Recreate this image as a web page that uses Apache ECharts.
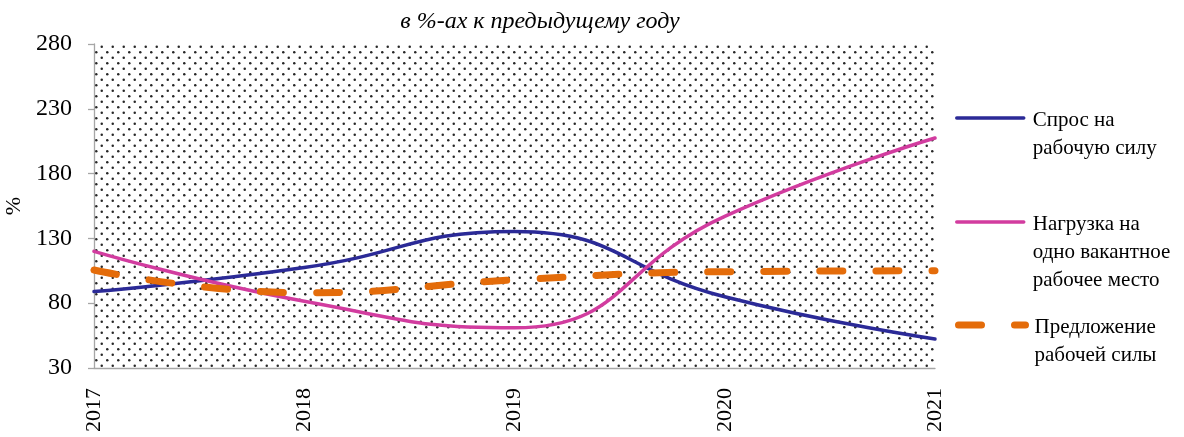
<!DOCTYPE html>
<html><head><meta charset="utf-8">
<script src="https://cdn.jsdelivr.net/npm/echarts@6/dist/echarts.min.js"></script>
<style>html,body{margin:0;padding:0;background:#fff}#c{width:1184px;height:437px}</style>
</head><body><div id="c"></div>
<script>
const years = ['2017', '2018', '2019', '2020', '2021'];
const yTicks = [30, 80, 130, 180, 230, 280];
const demand = [89, 107.5, 135.3, 85, 52.4];
const load = [120, 81.5, 61, 147, 207.5];
const supply = [105.6, 88, 98, 104.3, 105];
const names = ['Спрос на\nрабочую силу', 'Нагрузка на\nодно вакантное\nрабочее место', 'Предложение\nрабочей силы'];
const colors = ['#2B2A97', '#D23C9F', '#E46C0A'];

const tile = document.createElement('canvas');
tile.width = 11; tile.height = 11;
const g = tile.getContext('2d');
g.fillStyle = '#fff'; g.fillRect(0, 0, 11, 11);
g.fillStyle = '#262626';
[[2.75, 2.75], [8.25, 8.25]].forEach(p => { g.beginPath(); g.arc(p[0], p[1], 1.25, 0, Math.PI * 2); g.fill(); });

const font = 'Liberation Serif';
const L = 28;
function legend(i, iconY, lineStyle) {
  const lines = names[i].split('\n');
  const n = lines.length;
  return {
    data: [{ name: names[i], lineStyle: lineStyle, itemStyle: { opacity: 0 } }],
    left: 955, top: iconY - (2 * n - 1) * L / 2, padding: 0, itemWidth: 67, itemHeight: 14,
    selectedMode: false,
    formatter: function () {
      const blank = [];
      for (let k = 1; k < n; k++) blank.push('{t|\u00a0}');
      return blank.concat(lines.map(s => '{t|' + s + '}')).join('\n');
    },
    textStyle: { fontFamily: font, fontSize: 21, color: '#000', lineHeight: L,
      rich: { t: { fontFamily: font, fontSize: 21, color: '#000', lineHeight: L, padding: [4, 0, 0, 4] } } }
  };
}
const chart = echarts.init(document.getElementById('c'));
chart.setOption({
  animation: false,
  title: {
    text: 'в %-ах к предыдущему году', left: 535, top: 5, textAlign: 'center',
    textStyle: { fontFamily: font, fontStyle: 'italic', fontWeight: 'normal', fontSize: 24, color: '#000' }
  },
  grid: { left: 94, right: 249, top: 44, bottom: 69, show: true, borderWidth: 0,
    outerBoundsMode: 'none', containLabel: false,
    backgroundColor: { image: tile, repeat: 'repeat' } },
  legend: [
    legend(0, 118, { width: 3.5, cap: 'round' }),
    legend(1, 222, { width: 3.5, cap: 'round' }),
    legend(2, 325, { width: 7, type: [23, 33], cap: 'round' })
  ],
  xAxis: {
    type: 'category', data: years, boundaryGap: false,
    axisLine: { lineStyle: { color: '#A6A6A6', width: 1.3 } },
    axisTick: { show: false },
    axisLabel: { rotate: 90, margin: 20, fontFamily: font, fontSize: 22, color: '#000' },
    splitLine: { show: false }
  },
  yAxis: {
    type: 'value', min: 30, max: 280,
    name: '%', nameLocation: 'middle', nameGap: 62, nameRotate: 90,
    nameTextStyle: { fontFamily: font, fontSize: 22, color: '#000' },
    axisLine: { show: true, lineStyle: { color: '#A6A6A6', width: 1.3 } },
    axisTick: { show: true, inside: false, length: 6, customValues: yTicks, lineStyle: { color: '#A6A6A6', width: 1.3 } },
    axisLabel: { customValues: yTicks, margin: 22, fontFamily: font, fontSize: 24, color: '#000' },
    splitLine: { show: false }
  },
  series: [
    { name: names[0], type: 'line', data: demand, smooth: 0.5, symbol: 'none',
      lineStyle: { color: colors[0], width: 3.5, cap: 'round' }, itemStyle: { color: colors[0] } },
    { name: names[1], type: 'line', data: load, smooth: 0.5, symbol: 'none',
      lineStyle: { color: colors[1], width: 3.5, cap: 'round' }, itemStyle: { color: colors[1] } },
    { name: names[2], type: 'line', data: supply, smooth: 0.5, symbol: 'none',
      lineStyle: { color: colors[2], width: 7, type: [23, 33], cap: 'round' }, itemStyle: { color: colors[2] } }
  ]
});
</script></body></html>
